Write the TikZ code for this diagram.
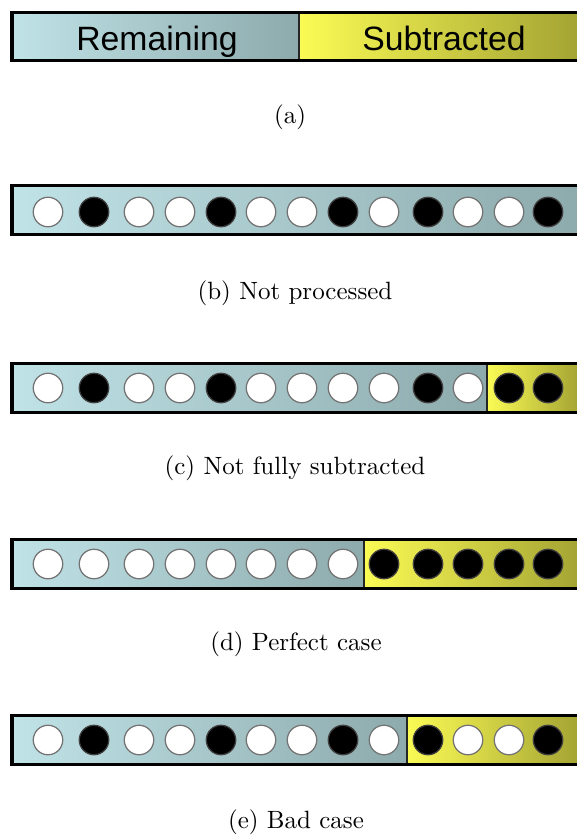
\documentclass[tikz,border=0pt]{standalone}
\usepackage{fontspec}
\usepackage{xcolor}
\usepackage{tikz}
\newfontfamily\barfont{Liberation Sans}
\usetikzlibrary{positioning}

\definecolor{remainL}{HTML}{C0E3E7}
\definecolor{remainR}{HTML}{8DAAAC}
\definecolor{subL}{HTML}{FBFB55}
\definecolor{subR}{HTML}{A3A333}

\begin{document}
\begin{tikzpicture}[x=0.4pt,y=-0.4pt,
		wdot/.style={circle,draw=black!55,fill=white,line width=0.5pt,minimum size=11.8pt,inner sep=0pt},
		bdot/.style={circle,draw=black!75,fill=black,line width=0.5pt,minimum size=11.8pt,inner sep=0pt},
		barline/.style={draw=black,line width=1.2pt},
		sepline/.style={draw=black!85,line width=0.5pt},
		barlabel/.style={font=\barfont\fontsize{13.5}{14}\selectfont,anchor=base}]
			\useasboundingbox (0,0) rectangle (577,835);
			\clip (0,0) rectangle (577,835);

			% ---------------- (a) Legend ----------------
			\shade[left color=remainL,right color=remainR] (12,12) rectangle (299,60);
			\shade[left color=subL,right color=subR] (299,12) rectangle (580,60);
			\draw[sepline] (299,12) -- (299,60);
			\draw[barline] (12,12) rectangle (580,60);
			\node[barlabel] (remain) at (157,50) {Remaining};
			\node[barlabel] (sub) at (444,50) {Subtracted};
			\node (capA) at (290,117) {(a)};

			% ---------------- (b) Not processed ----------------
			\shade[left color=remainL,right color=remainR] (12,185) rectangle (580,234);
			\draw[barline] (12,185) rectangle (580,234);

			% Balls
			\node[wdot] (b1) at (48,212) {};
			\node[bdot] (b2) at (94,212) {};
			\node[wdot] (b3) at (139,212) {};
			\node[wdot] (b4) at (180,212) {};
			\node[bdot] (b5) at (221,212) {};
			\node[wdot] (b6) at (261,212) {};
			\node[wdot] (b7) at (302,212) {};
			\node[bdot] (b8) at (343,212) {};
			\node[wdot] (b9) at (384,212) {};
			\node[bdot] (b10) at (428,212) {};
			\node[wdot] (b11) at (468,212) {};
			\node[wdot] (b12) at (509,212) {};
			\node[bdot] (b13) at (548,212) {};
			\node (capB) at (295,293) {(b) Not processed};

			% ---------------- (c) Not fully subtracted ----------------
			\shade[left color=remainL,right color=remainR] (12,363) rectangle (487,412);
			\shade[left color=subL,right color=subR] (487,363) rectangle (580,412);
			\draw[sepline] (487,363) -- (487,412);
			\draw[barline] (12,363) rectangle (580,412);

			% Balls
			\node[wdot] (c1) at (48,388) {};
			\node[bdot] (c2) at (94,388) {};
			\node[wdot] (c3) at (139,388) {};
			\node[wdot] (c4) at (180,388) {};
			\node[bdot] (c5) at (221,388) {};
			\node[wdot] (c6) at (261,388) {};
			\node[wdot] (c7) at (302,388) {};
			\node[wdot] (c8) at (343,388) {};
			\node[wdot] (c9) at (384,388) {};
			\node[bdot] (c10) at (428,388) {};
			\node[wdot] (c11) at (468,388) {};
			\node[bdot] (c12) at (509,388) {};
			\node[bdot] (c13) at (548,388) {};
			\node (capC) at (295,468) {(c) Not fully subtracted};

			% ---------------- (d) Perfect case ----------------
			\shade[left color=remainL,right color=remainR] (12,539) rectangle (364,588);
			\shade[left color=subL,right color=subR] (364,539) rectangle (580,588);
			\draw[sepline] (364,539) -- (364,588);
			\draw[barline] (12,539) rectangle (580,588);

			% Balls
			\node[wdot] (d1) at (48,564) {};
			\node[wdot] (d2) at (94,564) {};
			\node[wdot] (d3) at (139,564) {};
			\node[wdot] (d4) at (180,564) {};
			\node[wdot] (d5) at (221,564) {};
			\node[wdot] (d6) at (261,564) {};
			\node[wdot] (d7) at (302,564) {};
			\node[wdot] (d8) at (343,564) {};
			\node[bdot] (d9) at (384,564) {};
			\node[bdot] (d10) at (428,564) {};
			\node[bdot] (d11) at (468,564) {};
			\node[bdot] (d12) at (509,564) {};
			\node[bdot] (d13) at (548,564) {};
			\node (capD) at (296,644) {(d) Perfect case};

			% ---------------- (e) Bad case ----------------
			\shade[left color=remainL,right color=remainR] (12,715) rectangle (407,764);
			\shade[left color=subL,right color=subR] (407,715) rectangle (580,764);
			\draw[sepline] (407,715) -- (407,764);
			\draw[barline] (12,715) rectangle (580,764);

			% Balls
			\node[wdot] (e1) at (48,740) {};
			\node[bdot] (e2) at (94,740) {};
			\node[wdot] (e3) at (139,740) {};
			\node[wdot] (e4) at (180,740) {};
			\node[bdot] (e5) at (221,740) {};
			\node[wdot] (e6) at (261,740) {};
			\node[wdot] (e7) at (302,740) {};
			\node[bdot] (e8) at (343,740) {};
			\node[wdot] (e9) at (384,740) {};
			\node[bdot] (e10) at (428,740) {};
			\node[wdot] (e11) at (468,740) {};
			\node[wdot] (e12) at (509,740) {};
			\node[bdot] (e13) at (548,740) {};
			\node (capE) at (296,822) {(e) Bad case};
		\end{tikzpicture}
\end{document}
